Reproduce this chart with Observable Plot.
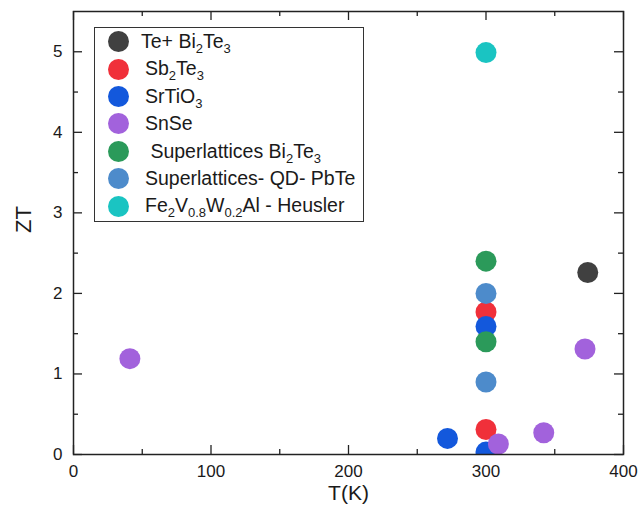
<!DOCTYPE html>
<html><head><meta charset="utf-8">
<script src="https://cdn.jsdelivr.net/npm/d3@7"></script>
<script src="https://cdn.jsdelivr.net/npm/@observablehq/plot@0.6"></script>
<style>
html,body{margin:0;padding:0;background:#fff;}
#wrap{position:relative;width:638px;height:513px;font-family:"Liberation Sans",Arial,sans-serif;}
#legend{position:absolute;left:94px;top:27px;width:270px;height:195px;box-sizing:border-box;border:1.5px solid #333;background:#fff;}
.row{height:27.4px;position:relative;}
.sw{position:absolute;left:13px;top:3.2px;width:21px;height:21px;border-radius:50%;}
.lab{position:absolute;left:50px;top:4px;font-size:19.5px;color:#1a1a1a;white-space:pre;line-height:19px;}
.lab sub{font-size:13px;vertical-align:-5px;line-height:0;}
</style></head><body><div id="wrap"></div>
<script>
// ---- data ----
const seriesNames = ["Te+ Bi2Te3", "Sb2Te3", "SrTiO3", "SnSe", "Superlattices Bi2Te3", "Superlattices- QD- PbTe", "Fe2V0.8W0.2Al - Heusler"];
const legendLabels = ["Te+ Bi_{2}Te_{3}", "Sb_{2}Te_{3}", "SrTiO_{3}", "SnSe", " Superlattices Bi_{2}Te_{3}", "Superlattices- QD- PbTe", "Fe_{2}V_{0.8}W_{0.2}Al - Heusler"];
const seriesColors = ["#404040", "#f0303a", "#1358dc", "#a262dc", "#2b9a5a", "#4d8bcb", "#1ac4c2"];

const teBiT = [374],            teBiZT = [2.26];
const sbTeT = [300, 300],       sbTeZT = [1.77, 0.31];
const srTiT = [300, 272, 300],  srTiZT = [1.59, 0.2, 0.03];
const snSeT = [41, 372, 342, 309], snSeZT = [1.19, 1.31, 0.27, 0.13];
const slBiT = [300, 300],       slBiZT = [2.4, 1.4];
const slQdT = [300, 300],       slQdZT = [2.0, 0.9];
const heusT = [300],            heusZT = [4.99];

const xMajor = [0, 100, 200, 300, 400];
const xMinor = [50, 150, 250, 350];
const yMajor = [0, 1, 2, 3, 4, 5];
const yMinor = [0.5, 1.5, 2.5, 3.5, 4.5];

// ---- build table ----
const allT = [teBiT, sbTeT, srTiT, snSeT, slBiT, slQdT, heusT];
const allZT = [teBiZT, sbTeZT, srTiZT, snSeZT, slBiZT, slQdZT, heusZT];
const data = [];
seriesNames.forEach((s, i) => allT[i].forEach((t, j) => data.push({series: s, T: t, ZT: allZT[i][j]})));

const W = 638, H = 513, mL = 73, mR = 15, mT = 11, mB = 59;
const pw = W - mL - mR, ph = H - mT - mB;
const tk = {stroke: "#222", strokeWidth: 1.3};

const chart = Plot.plot({
  width: W, height: H, marginLeft: mL, marginRight: mR, marginTop: mT, marginBottom: mB,
  style: {fontFamily: "'Liberation Sans', Arial, sans-serif", color: "#1a1a1a", background: "#fff"},
  x: {domain: [0, 400]},
  y: {domain: [0, 5.5]},
  color: {domain: seriesNames, range: seriesColors},
  marks: [
    Plot.axisX({ticks: xMajor, tickFormat: d3.format("d"), tickSize: 0, tickPadding: 10, fontSize: 17, label: null}),
    Plot.axisY({ticks: yMajor, tickFormat: d3.format("d"), tickSize: 0, tickPadding: 11, fontSize: 17, label: null}),
    Plot.tickX(xMajor, {x: d => d, insetTop: ph - 9, ...tk}),
    Plot.tickX(xMajor, {x: d => d, insetBottom: ph - 9, ...tk}),
    Plot.tickX(xMinor, {x: d => d, insetTop: ph - 5, ...tk}),
    Plot.tickX(xMinor, {x: d => d, insetBottom: ph - 5, ...tk}),
    Plot.tickY(yMajor, {y: d => d, insetRight: pw - 9, ...tk}),
    Plot.tickY(yMajor, {y: d => d, insetLeft: pw - 9, ...tk}),
    Plot.tickY(yMinor, {y: d => d, insetRight: pw - 5, ...tk}),
    Plot.tickY(yMinor, {y: d => d, insetLeft: pw - 5, ...tk}),
    Plot.dot(data, {x: "T", y: "ZT", fill: "series", r: 10.5, clip: true}),
    Plot.frame({stroke: "#222", strokeWidth: 1.5}),
    Plot.text(["T(K)"], {frameAnchor: "bottom", dy: 45, fontSize: 21, fill: "#1a1a1a"}),
    Plot.text(["ZT"], {frameAnchor: "left", dx: -50, rotate: -90, fontSize: 22, fill: "#1a1a1a"})
  ]
});
const wrap = document.getElementById("wrap");
wrap.appendChild(chart);

// ---- legend (HTML for subscripts) ----
const leg = document.createElement("div");
leg.id = "legend";
const toHTML = s => s.replace(/_\{([^}]*)\}/g, "<sub>$1</sub>");
legendLabels.forEach((lab, i) => {
  const row = document.createElement("div");
  row.className = "row";
  row.innerHTML = `<span class="sw" style="background:${seriesColors[i]}"></span><span class="lab"${i === 0 ? ' style="left:46px"' : ''}>${toHTML(lab)}</span>`;
  leg.appendChild(row);
});
wrap.appendChild(leg);
</script>
</body></html>
